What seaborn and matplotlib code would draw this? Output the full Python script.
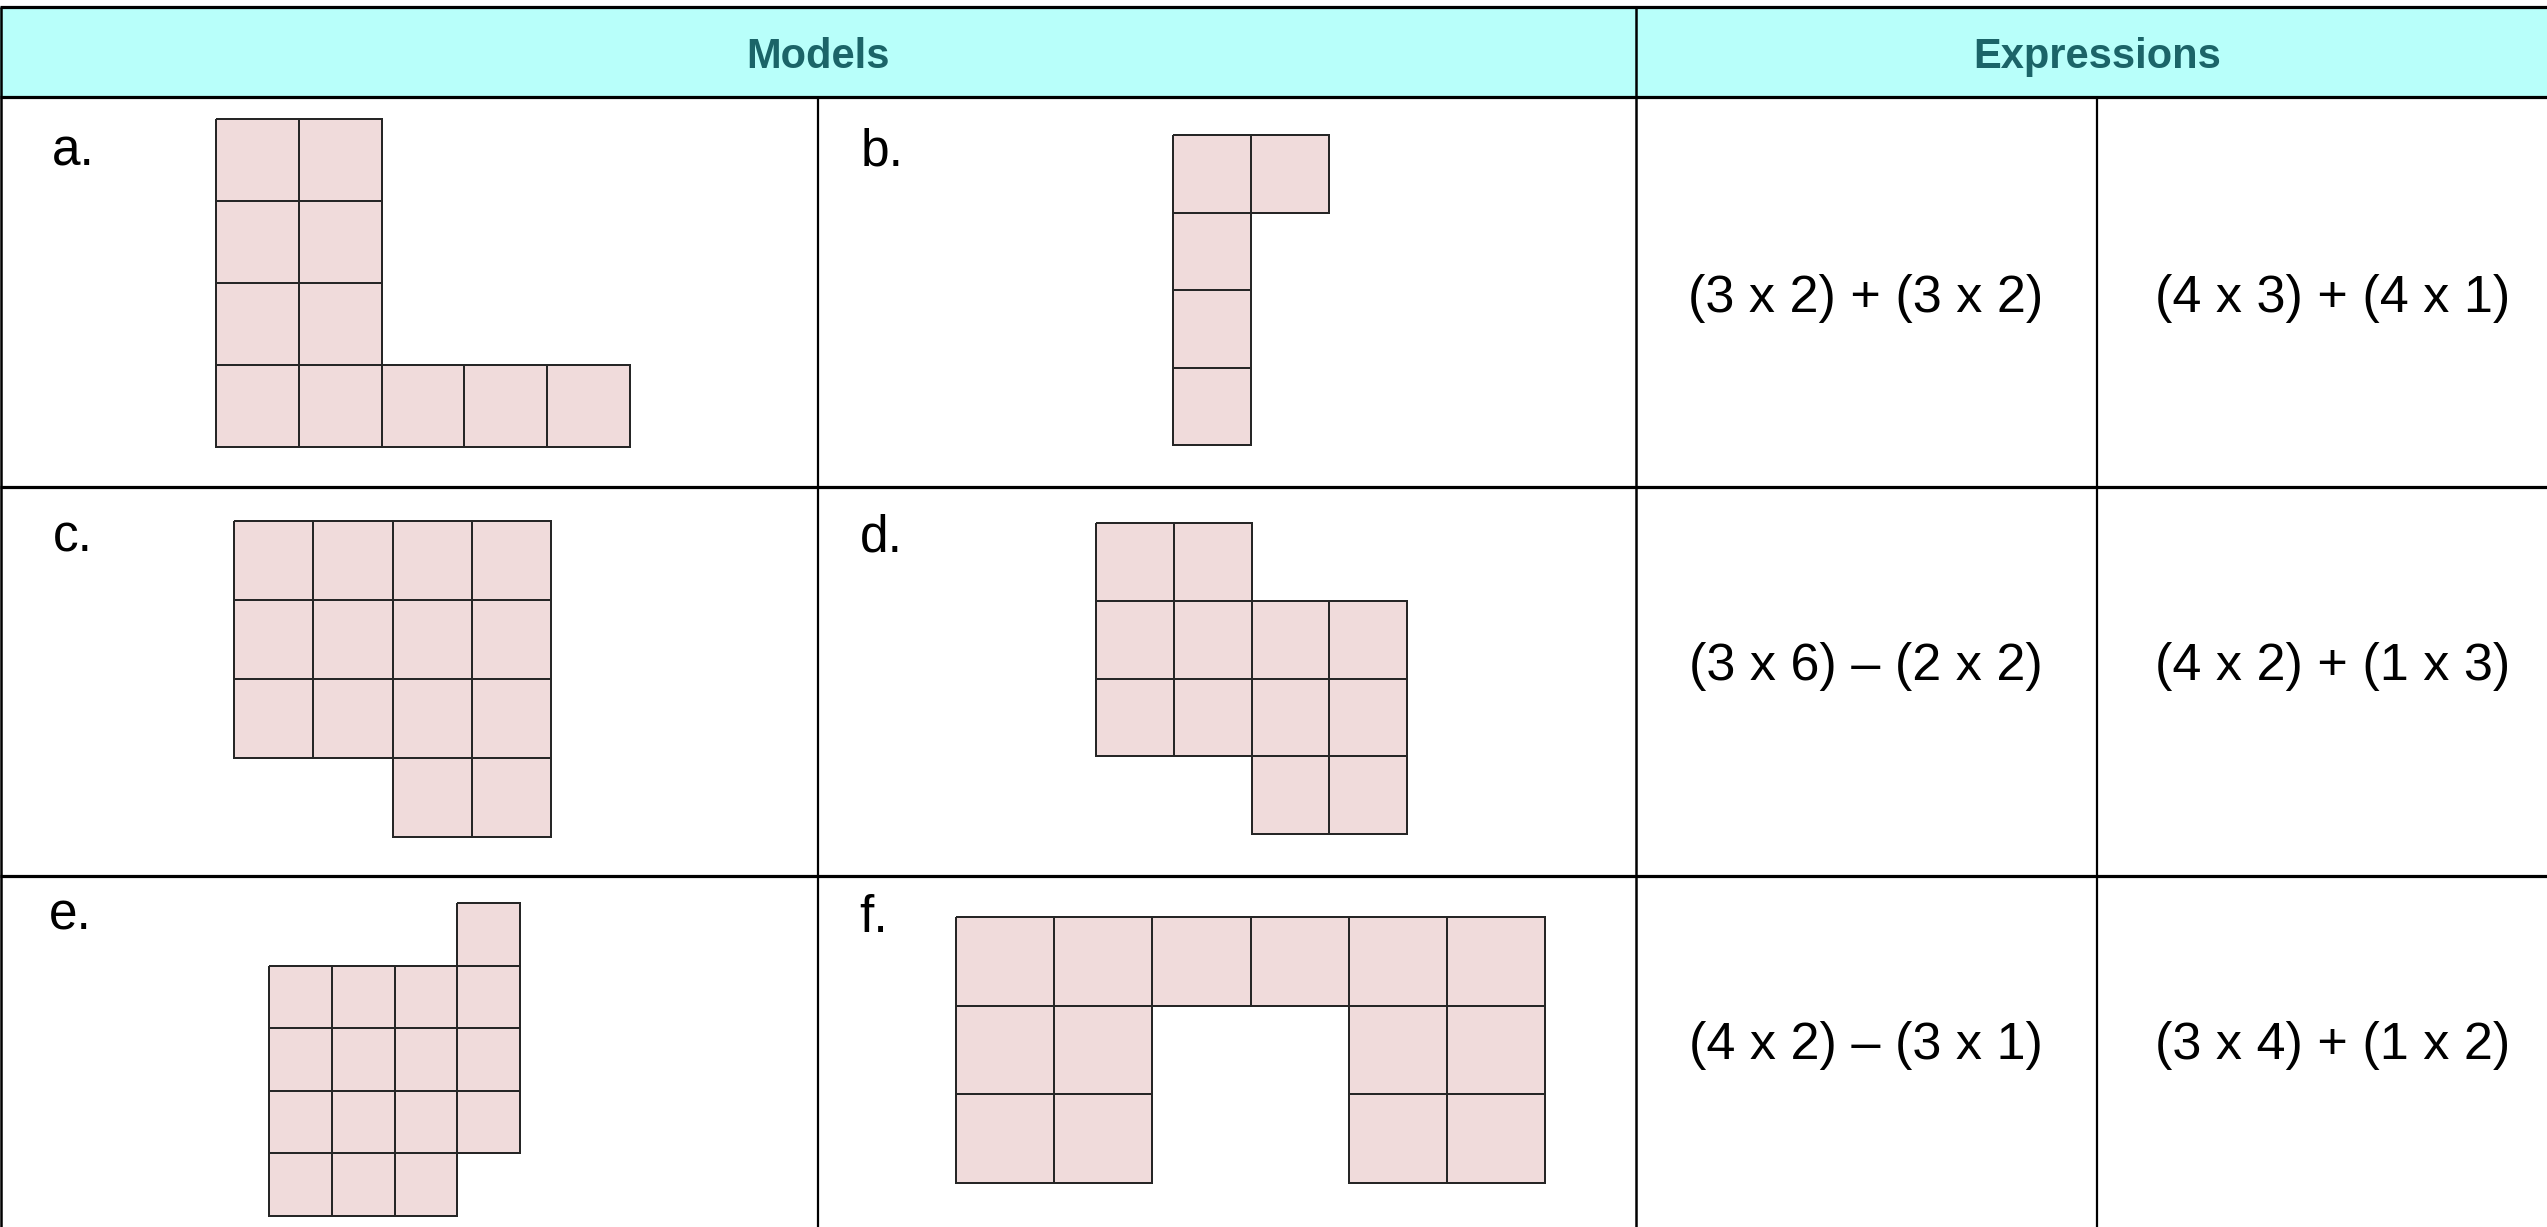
import numpy as np
import matplotlib
matplotlib.use("Agg")
import matplotlib.pyplot as plt
import seaborn as sns
from matplotlib.colors import ListedColormap, to_rgba

# table content
headers = ["Models", "Expressions"]
labels = ["a.", "b.", "c.", "d.", "e.", "f."]
expr_left = ["(3 x 2) + (3 x 2)", "(3 x 6) – (2 x 2)", "(4 x 2) – (3 x 1)"]
expr_right = ["(4 x 3) + (4 x 1)", "(4 x 2) + (1 x 3)", "(3 x 4) + (1 x 2)"]

# area models, one string per grid row (X = filled square)
model_a = ["XX...", "XX...", "XX...", "XXXXX"]
model_b = ["XX", "X.", "X.", "X."]
model_c = ["XXXX", "XXXX", "XXXX", "..XX"]
model_d = ["XX..", "XXXX", "XXXX", "..XX"]
model_e = ["...X", "XXXX", "XXXX", "XXXX", "XXX."]
model_f = ["XXXXXX", "XX..XX", "XX..XX"]
models = [model_a, model_b, model_c, model_d, model_e, model_f]

# layout in pixels (figure is 2547 x 1227)
W, H = 2547, 1227
model_boxes = [(216, 119, 630, 447), (1173, 135, 1329, 445),
               (234, 521, 551, 837), (1096, 523, 1407, 834),
               (269, 903, 520, 1216), (956, 917, 1545, 1183)]
label_pos = [(52, 165), (861, 165), (53, 552), (860, 552), (49, 930), (859, 932)]
row_lines = [7, 97, 487, 876]
expr_base = [312, 680, 1059]
expr_x = [1866, 2333]

pink = "#F0DBDB"
cyan = "#B8FFFA"
teal = "#1B6468"
edge = "#262626"

sns.set_style("white")
plt.rcParams["font.family"] = ["Liberation Sans", "DejaVu Sans"]

fig = plt.figure(figsize=(W / 100, H / 100), dpi=100)
ax = fig.add_axes([0, 0, 1, 1])
ax.set_xlim(0, W)
ax.set_ylim(H, 0)
ax.axis("off")

# header band + grid lines
ax.fill_between([0, 2560], row_lines[0], row_lines[1], color=cyan, lw=0)
ax.hlines(row_lines, 0, 2560, color="black", lw=2.3)
ax.vlines([1, 1636], row_lines[0], H, color="black", lw=1.8)
ax.vlines([818, 2097], row_lines[1], H, color="black", lw=1.6)

ax.text(818, 68, headers[0], ha="center", va="baseline", fontsize=30,
        fontweight="bold", color=teal)
ax.text(2097, 68, headers[1], ha="center", va="baseline", fontsize=30,
        fontweight="bold", color=teal)

for (x, y), lab in zip(label_pos, labels):
    ax.text(x, y, lab, ha="left", va="baseline", fontsize=37, color="black")

for i in range(3):
    ax.text(expr_x[0], expr_base[i], expr_left[i], ha="center", va="baseline",
            fontsize=37.5, color="black")
    ax.text(expr_x[1], expr_base[i], expr_right[i], ha="center", va="baseline",
            fontsize=37.5, color="black")

# each model is a masked heatmap in its own inset axes
for grid, (x0, y0, x1, y1) in zip(models, model_boxes):
    arr = np.array([[1 if c == "X" else 0 for c in row] for row in grid])
    sub = fig.add_axes([x0 / W, 1 - y1 / H, (x1 - x0) / W, (y1 - y0) / H])
    sns.heatmap(arr, mask=(arr == 0), cmap=ListedColormap([pink]), cbar=False,
                linewidths=1.4, linecolor=edge, xticklabels=False,
                yticklabels=False, ax=sub)
    mesh = sub.collections[0]
    # no outline on the empty (masked) squares
    ecs = [to_rgba(edge) if v else (0, 0, 0, 0) for v in arr.ravel()]
    mesh.set_edgecolor(ecs)
    mesh.set_clip_on(False)
    sub.axis("off")

fig.savefig("out.png", dpi=100, facecolor="white")
